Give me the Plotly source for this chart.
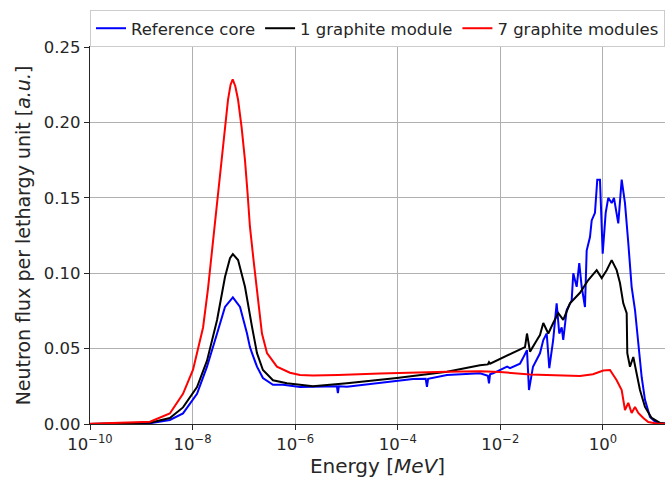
import plotly.graph_objects as go

# ---- data (energy in MeV, flux per lethargy in a.u.) ----
ref_energy = [1e-10, 1e-9, 1.48e-9, 3.6e-9, 6.5e-9, 1.22e-8, 1.91e-8, 3.0e-8, 4.28e-8, 6.1e-8,
              8.4e-8, 1.15e-7, 1.31e-7, 1.44e-7, 1.8e-7, 2.35e-7, 3.69e-7, 5.8e-7, 1.24e-6, 2.22e-6,
              6.5e-6, 6.8e-6, 7.1e-6, 1.02e-5, 4.5e-5, 1.98e-4, 3.5e-4, 3.7e-4, 3.9e-4, 9.1e-4,
              4.0e-3, 5.7e-3, 6.0e-3, 6.3e-3, 7.2e-3, 1.35e-2, 1.54e-2, 2.41e-2, 2.76e-2, 3.3e-2,
              3.61e-2, 4.32e-2,
              0.0591, 0.0686, 0.080, 0.0898, 0.107, 0.125, 0.1406, 0.1566, 0.168, 0.196,
              0.2455, 0.2636, 0.307, 0.345, 0.3845, 0.4457, 0.481, 0.558, 0.6026, 0.698,
              0.774, 0.874, 0.987, 1.129, 1.268, 1.478, 1.637, 1.987, 2.315, 2.685,
              3.115, 3.62, 4.21, 4.88, 5.68, 6.59, 8.25, 11.1, 16.2, 20.0]
ref_flux = [0.0, 0.0002, 0.0005, 0.0027, 0.007, 0.020, 0.038, 0.060, 0.0776, 0.084,
            0.0776, 0.060, 0.051, 0.047, 0.038, 0.0305, 0.026, 0.026, 0.0245, 0.0247,
            0.025, 0.0205, 0.025, 0.0247, 0.0274, 0.0298, 0.030, 0.0247, 0.030, 0.0325,
            0.0336, 0.032, 0.027, 0.033, 0.0336, 0.038, 0.037, 0.040, 0.0437, 0.049,
            0.0225, 0.038,
            0.0469, 0.0557, 0.060, 0.037, 0.0557, 0.080, 0.060, 0.064, 0.0557, 0.0756,
            0.082, 0.100, 0.091, 0.1067, 0.091, 0.0776, 0.115, 0.124, 0.135, 0.140,
            0.162, 0.162, 0.113, 0.140, 0.150, 0.1465, 0.150, 0.133, 0.162, 0.1465,
            0.120, 0.091, 0.0756, 0.051, 0.031, 0.016, 0.0046, 0.0007, 0.0002, 0.0]

one_energy = [1e-10, 1e-9, 1.48e-9, 3.6e-9, 6.5e-9, 1.22e-8, 1.91e-8, 3.0e-8, 4.28e-8, 5.36e-8,
              6.1e-8, 7.7e-8, 1.05e-7, 1.44e-7, 1.8e-7, 2.35e-7, 3.69e-7, 6.9e-7, 1.24e-6, 2.22e-6,
              1.02e-5, 9.6e-5, 9.1e-4, 4.0e-3, 5.7e-3, 6.0e-3, 6.3e-3, 1.76e-2, 3.02e-2, 3.3e-2,
              3.78e-2, 5.16e-2,
              0.0591, 0.0686, 0.0859, 0.107, 0.1345, 0.168, 0.2275, 0.356, 0.5165, 0.7535,
              0.944, 1.18, 1.478, 1.849, 2.145, 2.488, 2.897, 2.978, 3.36, 3.90,
              4.54, 5.26, 6.59, 8.89, 12.9, 16.2, 20.0]
one_flux = [0.0, 0.0004, 0.0009, 0.004, 0.011, 0.0245, 0.042, 0.069, 0.0975, 0.110,
            0.1127, 0.1087, 0.091, 0.0644, 0.047, 0.0358, 0.029, 0.027, 0.0259, 0.025,
            0.027, 0.0305, 0.0347, 0.039, 0.0395, 0.041, 0.040, 0.047, 0.051, 0.060,
            0.048, 0.0557,
            0.059, 0.067, 0.060, 0.067, 0.0735, 0.069, 0.080, 0.087, 0.0955, 0.102,
            0.0968, 0.102, 0.1087, 0.102, 0.0935, 0.080, 0.0735, 0.047, 0.038, 0.0444,
            0.034, 0.0225, 0.0113, 0.004, 0.0007, 0.0003, 0.0]

seven_energy = [1e-10, 1e-9, 1.48e-9, 3.6e-9, 6.5e-9, 1.02e-8, 1.6e-8, 2.0e-8, 2.5e-8, 3.05e-8,
                3.74e-8, 4.9e-8, 5.5e-8, 6.05e-8, 6.8e-8, 7.7e-8, 9.0e-8, 1.05e-7, 1.18e-7, 1.31e-7,
                1.55e-7, 1.8e-7, 2.25e-7, 2.82e-7, 4.4e-7, 7.9e-7, 1.24e-6, 2.22e-6, 6.8e-6, 4.5e-5,
                1.98e-4, 9.1e-4, 4.0e-3, 9.8e-3,
                0.0378, 0.145, 0.356, 0.638, 1.014, 1.369, 1.849, 2.315, 2.685, 3.115,
                3.62, 4.21, 4.88, 6.11, 7.64, 11.1, 16.2, 20.0]
seven_flux = [0.0001, 0.001, 0.0015, 0.007, 0.020, 0.036, 0.064, 0.090, 0.12, 0.148,
              0.175, 0.215, 0.225, 0.2285, 0.224, 0.215, 0.197, 0.175, 0.153, 0.131,
              0.108, 0.087, 0.060, 0.047, 0.038, 0.034, 0.0325, 0.0322, 0.0325, 0.0335,
              0.0342, 0.0347, 0.035, 0.0345,
              0.0328, 0.0322, 0.0318, 0.033, 0.0355, 0.0358, 0.029, 0.0225, 0.0093, 0.014,
              0.0073, 0.0113, 0.0073, 0.004, 0.0013, 0.0003, 0.0001, 0.0]

tick_values = [1e-10, 1e-8, 1e-6, 1e-4, 1e-2, 1e0]
tick_labels = ["10<sup>\u221210</sup>", "10<sup>\u22128</sup>", "10<sup>\u22126</sup>",
               "10<sup>\u22124</sup>", "10<sup>\u22122</sup>", "10<sup>0</sup>"]

series = [
    ("Reference core", ref_energy, ref_flux, "#0000ff"),
    ("1 graphite module", one_energy, one_flux, "#000000"),
    ("7 graphite modules", seven_energy, seven_flux, "#ff0000"),
]

FONT = "DejaVu Sans"

fig = go.Figure()
for name, e, f, c in series:
    fig.add_trace(go.Scatter(x=e, y=f, mode="lines", name=name,
                             line=dict(color=c, width=2)))

fig.update_layout(
    width=665, height=480,
    margin=dict(l=90, r=0, t=47, b=56),
    paper_bgcolor="white", plot_bgcolor="white",
    font=dict(family=FONT, size=16.5, color="#262626"),
    showlegend=True,
    legend=dict(orientation="h", x=0, xanchor="left", y=1.0, yanchor="bottom",
                bordercolor="#cccccc", borderwidth=1, bgcolor="white",
                font=dict(family=FONT, size=16.5, color="#262626"),
                tracegroupgap=0, itemwidth=30),
    xaxis=dict(type="log", range=[-10, 1.209], tickvals=tick_values, ticktext=tick_labels,
               showgrid=True, gridcolor="#b0b0b0", gridwidth=1,
               showline=True, linecolor="#262626", linewidth=1.2, mirror=True,
               ticks="outside", ticklen=5, tickcolor="#262626",
               zeroline=False,
               title=dict(text="Energy [<i>MeV</i>]", font=dict(size=20), standoff=4)),
    yaxis=dict(range=[0, 0.25], dtick=0.05, tickformat=".2f",
               showgrid=True, gridcolor="#b0b0b0", gridwidth=1,
               showline=True, linecolor="#262626", linewidth=1.2,
               ticks="outside", ticklen=5, tickcolor="#262626",
               zeroline=False,
               title=dict(text="Neutron flux per lethargy unit [<i>a.u.</i>]",
                          font=dict(size=19), standoff=8)),
)

fig.write_html("out.html")
